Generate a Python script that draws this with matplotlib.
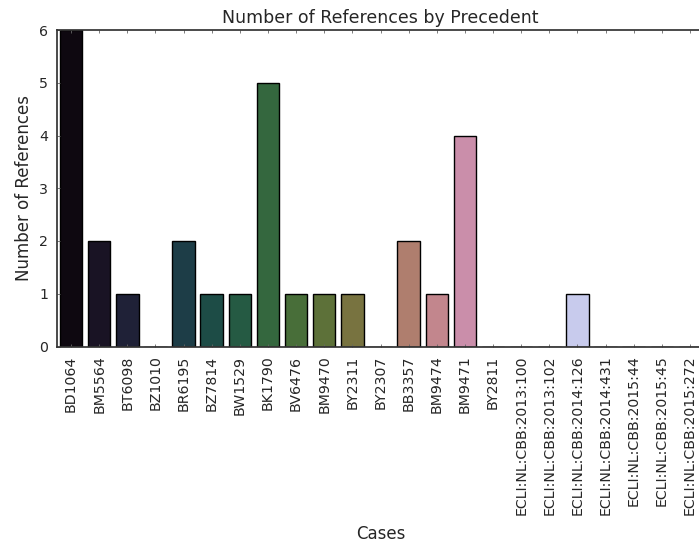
import matplotlib

matplotlib.use("Agg")
import matplotlib.pyplot as plt
import seaborn as sns

cases = [
    "BD1064", "BM5564", "BT6098", "BZ1010", "BR6195", "BZ7814", "BW1529",
    "BK1790", "BV6476", "BM9470", "BY2311", "BY2307", "BB3357", "BM9474",
    "BM9471", "BY2811",
    "ECLI:NL:CBB:2013:100", "ECLI:NL:CBB:2013:102", "ECLI:NL:CBB:2014:126",
    "ECLI:NL:CBB:2014:431", "ECLI:NL:CBB:2015:44", "ECLI:NL:CBB:2015:45",
    "ECLI:NL:CBB:2015:272",
]
references = [6, 2, 1, 0, 2, 1, 1, 5, 1, 1, 1, 0, 2, 1, 4, 0, 0, 0, 1, 0, 0, 0, 0]

text_color = ".15"
plt.rcParams["font.family"] = ["DejaVu Sans"]

fig = plt.figure(figsize=(6.99, 5.45), dpi=100)
ax = fig.add_axes([57 / 699, 198.5 / 545, 647 / 699, 316.5 / 545])

colors = sns.color_palette("cubehelix", len(cases))
sns.barplot(
    x=cases,
    y=references,
    hue=cases,
    palette=colors,
    saturation=0.75,
    edgecolor="black",
    linewidth=1,
    legend=False,
    ax=ax,
)

ax.set_xlim(-0.5, len(cases) - 0.5)
ax.set_ylim(0, 6)
ax.set_title("Number of References by Precedent", fontsize=12.5, color=text_color, pad=5)
ax.set_xlabel("Cases", fontsize=12, color=text_color, labelpad=7)
ax.set_ylabel("Number of References", fontsize=12, color=text_color, labelpad=4)

ax.tick_params(axis="both", direction="in", length=2, width=0.6, colors="0.4",
               labelcolor=text_color, labelsize=10.2, pad=6.5, top=True, right=True)
ax.tick_params(axis="x", labelrotation=90)
for spine in ax.spines.values():
    spine.set_color("0.2")
    spine.set_linewidth(1.25)

fig.savefig("out.png", dpi=100)
